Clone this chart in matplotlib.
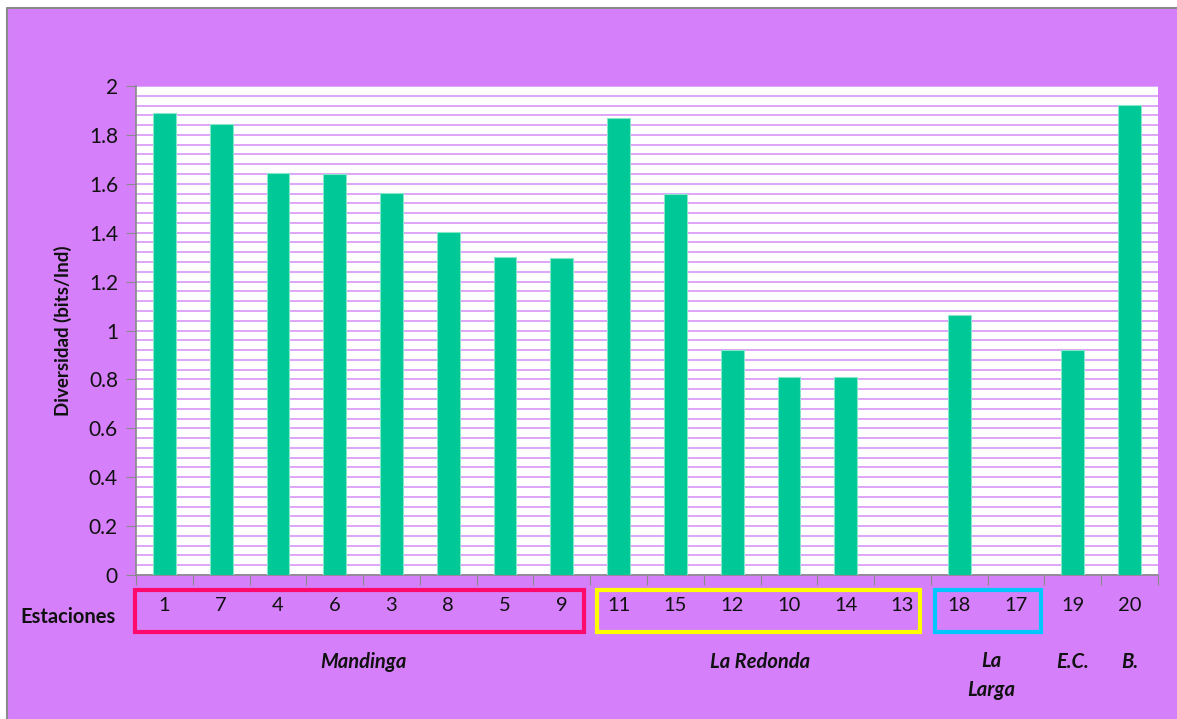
import matplotlib
matplotlib.use("Agg")
import matplotlib.pyplot as plt
from matplotlib.patches import Rectangle
from matplotlib.lines import Line2D
from matplotlib.ticker import MultipleLocator
import numpy as np

plt.rcParams['font.family'] = ['Lato', 'DejaVu Sans']

# Stations in plotted order and Shannon diversity values
stations = ["1", "7", "4", "6", "3", "8", "5", "9",
            "11", "15", "12", "10", "14", "13",
            "18", "17", "19", "20"]
diversity = [1.89, 1.845, 1.645, 1.64, 1.563, 1.403, 1.302, 1.298,
             1.869, 1.558, 0.92, 0.81, 0.81, 0.0,
             1.062, 0.0, 0.922, 1.922]

# Site groups: (label, first index, last index, frame colour)
groups = [
    ("Mandinga", 0, 7, "#ff0a6c"),
    ("La Redonda", 8, 13, "#ffff00"),
    ("La\nLarga", 14, 15, "#00c8ff"),
    ("E.C.", 16, 16, None),
    ("B.", 17, 17, None),
]

W, H = 1177, 719
fig = plt.figure(figsize=(W / 100, H / 100), dpi=100)
fig.patch.set_facecolor("white")

# Purple panel running off the right and bottom, grey frame on top/left
px0, py1 = 7 / W, 1 - 8 / H
fig.patches.append(Rectangle((px0, 0), 1 - px0, py1, transform=fig.transFigure,
                             facecolor="#d580fa", edgecolor="none", zorder=-10))
fig.lines.append(Line2D([px0, px0, 1], [0, py1, py1], transform=fig.transFigure,
                        color="#8a8a8a", linewidth=1.5, zorder=-9))

ax = fig.add_axes([136 / W, (H - 575) / H, (1158 - 136) / W, (575 - 86) / H])
ax.set_facecolor("white")

x = np.arange(len(stations))
ax.bar(x, diversity, width=0.4, color="#00c896", edgecolor="#86e8c9",
       linewidth=0.8, zorder=3)

ax.set_xlim(-0.5, len(stations) - 0.5)
ax.set_ylim(0, 2)
yt = np.round(np.arange(0, 2.01, 0.2), 1)
ax.set_yticks(yt)
ax.set_yticklabels([f"{v:g}" for v in yt])
ax.yaxis.set_minor_locator(MultipleLocator(0.04))
ax.grid(True, which="both", axis="y", color="#dc9ef8", linewidth=1.3, zorder=1)
ax.set_axisbelow(True)

for s in ["top", "right"]:
    ax.spines[s].set_visible(False)
for s in ["left", "bottom"]:
    ax.spines[s].set_color("#8a8a8a")
    ax.spines[s].set_linewidth(1.2)

ax.tick_params(axis="y", which="major", direction="out", length=7,
               color="#8a8a8a", labelsize=15, pad=6, labelcolor="#111111")
ax.tick_params(axis="y", which="minor", length=0)

# Category boundary ticks on the x-axis, labels drawn as text
ax.set_xticks(np.arange(-0.5, len(stations), 1.0))
ax.set_xticklabels([])
ax.tick_params(axis="x", direction="out", length=7, color="#8a8a8a")

ax.set_ylabel("Diversidad (bits/Ind)", fontsize=13.5, fontweight="bold",
              labelpad=12, color="#111111")

trans = ax.get_xaxis_transform()
for xi, name in zip(x, stations):
    ax.text(xi, -0.063, name, transform=trans, ha="center", va="center",
            fontsize=14.5, color="#111111", clip_on=False)

fig.text(68 / W, 1 - 617 / H, "Estaciones", ha="center", va="center",
         fontsize=14.5, fontweight="bold", color="#111111")

# Frames around station groups, in data x / axes y
frame_x = {"Mandinga": (-0.52, 7.39), "La Redonda": (7.62, 13.31),
           "La\nLarga": (13.57, 15.44)}
y0, y1 = -0.1166, -0.0307
for label, i0, i1, col in groups:
    if col is not None:
        xa, xb = frame_x[label]
        ax.add_patch(Rectangle((xa, y0), xb - xa, y1 - y0, transform=trans,
                               fill=False, edgecolor=col, linewidth=3,
                               clip_on=False, zorder=5))
    xc = (i0 + i1) / 2
    if label == "La\nLarga":
        ax.text(xc + 0.07, -0.176, "La", transform=trans, ha="center",
                va="center", fontsize=14.5, fontweight="bold",
                fontstyle="italic", color="#111111")
        ax.text(xc + 0.07, -0.236, "Larga", transform=trans, ha="center",
                va="center", fontsize=14.5, fontweight="bold",
                fontstyle="italic", color="#111111")
    else:
        ax.text(xc, -0.178, label, transform=trans, ha="center", va="center",
                fontsize=14.5, fontweight="bold", fontstyle="italic",
                color="#111111")

fig.savefig("out.png", dpi=100, facecolor=fig.get_facecolor())
